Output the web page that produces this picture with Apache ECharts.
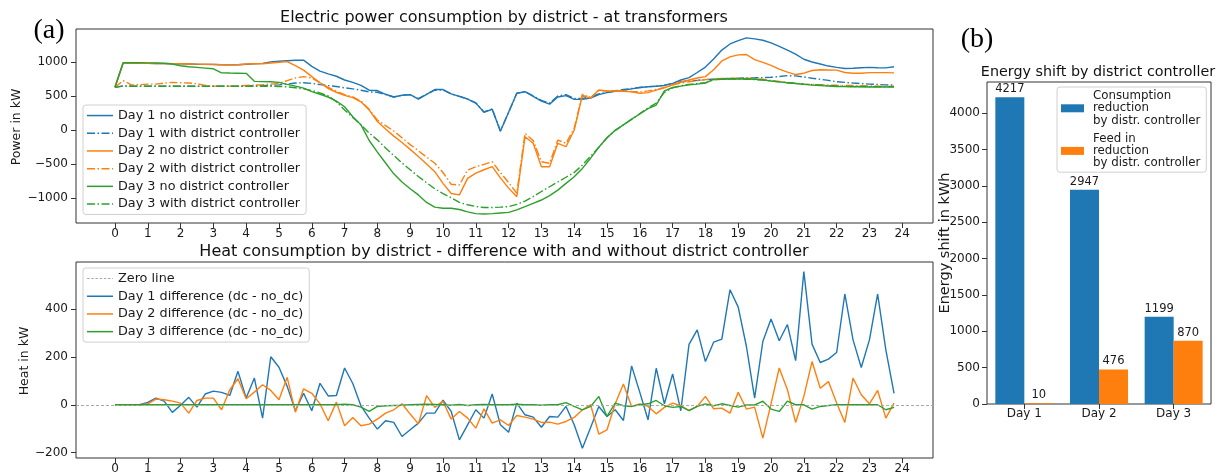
<!DOCTYPE html>
<html><head><meta charset="utf-8">
<script src="https://cdn.jsdelivr.net/npm/echarts@6/dist/echarts.min.js"></script>
<style>html,body{margin:0;padding:0;background:#fff}#c{width:1222px;height:476px}</style>
</head><body><div id="c"></div>
<script>
// ---------- DATA ----------
// time stamps: quarter-hours 0 .. 23.75
const hours = Array.from({length: 96}, (_, i) => i / 4);
const hourTicks = [0,1,2,3,4,5,6,7,8,9,10,11,12,13,14,15,16,17,18,19,20,21,22,23,24];
const powerTicks = [-1000, -500, 0, 500, 1000];
const heatTicks = [-200, 0, 200, 400];
const energyTicks = [0, 500, 1000, 1500, 2000, 2500, 3000, 3500, 4000];

const powerNames = ['Day 1 no district controller','Day 1 with district controller','Day 2 no district controller','Day 2 with district controller','Day 3 no district controller','Day 3 with district controller'];

const day1NoDc = [
 632, 990, 988, 985, 985, 983, 982, 980,
 978, 975, 972, 970, 968, 965, 962, 965,
 972, 978, 985, 1005, 1015, 1024, 1030, 1032,
 940, 870, 830, 795, 740, 705, 660, 590,
 585, 530, 490, 515, 525, 460, 530, 600,
 600, 535, 500, 460, 400, 265, 310, -15,
 265, 545, 568, 500, 430, 385, 490, 510,
 455, 455, 475, 525, 555, 575, 590, 610,
 630, 640, 648, 660, 690, 740, 775, 850,
 930, 1050, 1180, 1270, 1320, 1360, 1345, 1325,
 1285, 1235, 1180, 1120, 1045, 1005, 975, 945,
 925, 910, 912, 920, 925, 920, 918, 935];
const day1Dc = [
 632, 655, 652, 650, 650, 650, 648, 648,
 648, 648, 648, 648, 648, 648, 648, 650,
 652, 655, 658, 662, 668, 680, 695, 700,
 690, 672, 658, 645, 625, 610, 590, 565,
 560, 525, 490, 515, 525, 465, 530, 590,
 595, 535, 500, 460, 405, 270, 315, -10,
 265, 545, 570, 505, 440, 400, 505, 525,
 470, 470, 490, 535, 560, 580, 600, 615,
 630, 640, 650, 665, 690, 715, 725, 735,
 745, 752, 758, 762, 765, 770, 772, 775,
 780, 790, 805, 800, 785, 765, 750, 735,
 715, 705, 695, 688, 680, 675, 668, 665];
const day2NoDc = [
 632, 990, 988, 986, 985, 983, 982, 980,
 978, 976, 974, 972, 970, 965, 960, 965,
 975, 978, 980, 990, 1000, 1010, 950, 885,
 790, 700, 615, 560, 515, 480, 420, 300,
 130, 20, -85, -180, -280, -385, -495, -608,
 -780, -930, -950, -706, -630, -580, -535, -700,
 -850, -976, -94, -191, -535, -535, -191, -241,
 4, 519, 470, 593, 575, 580, 575, 565,
 545, 555, 590, 625, 670, 710, 740, 770,
 790, 890, 1020, 1080, 1110, 1115, 1040, 1000,
 955, 900, 855, 820, 840, 880, 890, 888,
 885, 850, 840, 840, 848, 848, 848, 845];
const day2Dc = [
 632, 730, 668, 670, 680, 680, 695, 705,
 700, 695, 685, 660, 650, 650, 650, 650,
 660, 665, 670, 680, 690, 730, 770, 790,
 770, 700, 630, 575, 525, 490, 430, 310,
 150, 70, -10, -110, -210, -300, -395, -485,
 -620, -794, -804, -584, -535, -500, -462, -620,
 -770, -926, -45, -150, -462, -485, -143, -191,
 30, 530, 480, 590, 580, 585, 580, 570,
 565, 580, 600, 630, 665, 695, 715, 730,
 745, 755, 762, 765, 765, 765, 760, 750,
 735, 720, 705, 690, 680, 675, 670, 665,
 662, 660, 658, 655, 652, 650, 650, 648];
const day3NoDc = [
 632, 994, 994, 993, 992, 990, 985, 975,
 950, 935, 925, 915, 905, 845, 842, 840,
 838, 720, 716, 714, 705, 676, 650, 620,
 570, 530, 490, 430, 347, 200, 80, -150,
 -320, -480, -640, -760, -860, -950, -1060, -1130,
 -1147, -1147, -1165, -1200, -1225, -1231, -1225, -1215,
 -1206, -1170, -1123, -1075, -1025, -960, -880, -780,
 -682, -560, -410, -250, -110, 0, 80, 165,
 240, 320, 372, 580, 630, 650, 668, 680,
 695, 748, 752, 755, 755, 754, 750, 742,
 725, 712, 700, 688, 675, 665, 658, 652,
 645, 642, 640, 640, 638, 638, 637, 637];
const day3Dc = [
 632, 650, 648, 648, 648, 648, 648, 648,
 648, 648, 648, 648, 648, 648, 648, 648,
 648, 648, 648, 648, 645, 640, 625, 610,
 585, 550, 505, 420, 300, 190, 80, -40,
 -140, -260, -370, -480, -580, -680, -770, -860,
 -930, -990, -1060, -1095, -1120, -1135, -1135, -1130,
 -1122, -1090, -1040, -975, -900, -830, -760, -690,
 -620, -510, -380, -250, -110, 0, 80, 160,
 245, 330, 400, 560, 625, 655, 675, 688,
 700, 745, 752, 755, 755, 752, 746, 738,
 725, 712, 700, 690, 680, 672, 665, 658,
 652, 648, 645, 645, 643, 642, 642, 642];

const heatNames = ['Zero line','Day 1 difference (dc - no_dc)','Day 2 difference (dc - no_dc)','Day 3 difference (dc - no_dc)'];
const heatDay1 = [
 0, 0, 0, 0, 10, 28, 15, -32,
 -2, 31, -10, 45, 57, 52, 39, 140,
 28, 112, -56, 201, 157, 77, -25, 48,
 -25, 90, 37, 39, 154, 89, -5, -56,
 -102, -67, -74, -133, -105, -77, -35, -35,
 19, -28, -147, -84, -21, -56, 45, -84,
 -115, 7, -42, -52, -94, -49, -52, -7,
 -84, -182, -95, -7, -49, -21, -66, 163,
 52, -63, 153, 4, 129, -25, 253, 314,
 181, 262, 275, 482, 409, 244, 28, 265,
 359, 268, 336, 185, 558, 254, 177, 191,
 219, 464, 272, 156, 272, 464, 230, 48];
const heatDay2 = [
 0, 0, 0, 0, 4, 24, 21, 15,
 7, -35, 18, 28, 28, -21, 63, 109,
 25, 53, 84, 60, 21, 115, -31, 67,
 48, 4, -67, 11, -88, -53, -88, -81,
 -60, -35, -21, 4, -39, -80, 38, -11,
 15, -60, -28, -56, -98, -17, -77, -63,
 -87, -45, -52, -60, -74, -73, -81, -70,
 -53, -21, 0, -123, -105, 4, 87, -7,
 4, -7, -38, -11, 7, -4, -24, -7,
 35, -17, -14, -35, 52, -18, -10, -140,
 4, 154, 63, -74, 35, 181, 69, 97,
 7, -74, 112, 42, 4, 60, -56, 7];
const heatDay3 = [
 0, 0, 0, 0, 0, 0, 0, 0,
 0, 0, 0, 0, 0, 0, 0, 0,
 0, 0, 0, 0, 0, 0, 0, 0,
 0, 0, 0, 0, 2, 0, -10, -28,
 -7, -4, -3, -2, 0, 1, 2, 1,
 0, -2, 1, -3, 0, 1, 0, 0,
 0, 2, 0, 0, -2, 0, 0, 9,
 -7, -21, -7, 35, -49, 7, -4, -7,
 0, 4, 18, -4, -11, -7, -25, -7,
 4, -4, 4, -3, -10, -1, -1, 15,
 -18, -28, 15, 0, 0, -18, -7, -3,
 0, 0, 0, 0, 0, 0, -21, -11];

const days = ['Day 1', 'Day 2', 'Day 3'];
const consumptionReduction = [4217, 2947, 1199];
const feedInReduction = [10, 476, 870];
const barNames = ['Consumption\nreduction\nby distr. controller', 'Feed in\nreduction\nby distr. controller'];

// ---------- STYLE ----------
const FONT = 'DejaVu Sans';
const BLUE = '#1f77b4', ORANGE = '#ff7f0e', GREEN = '#2ca02c';
const DASHDOT = [8, 2.5, 1.5, 2.5];
const TXT = '#1a1a1a';
// legend glyphs (26 x 13 box, line drawn in the middle)
const ICON_SOLID = 'path://M0,0M26,13M0,5.8h26v1.5h-26z';
const ICON_DASHDOT = 'path://M0,0M26,13M0,5.8h8v1.5h-8zM10.5,5.8h1.5v1.5h-1.5zM14.5,5.8h8v1.5h-8zM25,5.8h1v1.5h-1z';
const ICON_DASHED = 'path://M0,0M26,13M0,6h2.5v1h-2.5zM4.2,6h2.5v1h-2.5zM8.4,6h2.5v1h-2.5zM12.6,6h2.5v1h-2.5zM16.8,6h2.5v1h-2.5zM21,6h2.5v1h-2.5zM25.2,6h0.8v1h-0.8z';

const pair = arr => hours.map((h, i) => [h, arr[i]]);
const minus = v => (v < 0 ? '\u2212' + Math.abs(v) : String(v));

function xHourAxis(gi) {
  return {
    type: 'value', gridIndex: gi, min: -1.1875, max: 24.9375,
    axisLine: {show: false, onZero: false}, splitLine: {show: false},
    axisTick: {show: true, length: 5, lineStyle: {color: '#333', width: 1}, customValues: hourTicks},
    axisLabel: {customValues: hourTicks, margin: 5, fontSize: 12, color: TXT, fontFamily: FONT}
  };
}
function yAxisCfg(gi, min, max, ticks) {
  return {
    type: 'value', gridIndex: gi, min: min, max: max,
    axisLine: {show: false, onZero: false}, splitLine: {show: false},
    axisTick: {show: true, length: 5, lineStyle: {color: '#333', width: 1}, customValues: ticks},
    axisLabel: {customValues: ticks, margin: 8, fontSize: 12, color: TXT, fontFamily: FONT, formatter: minus}
  };
}
function lineSeries(name, data, color, dash, xi) {
  return {
    type: 'line', name: name, xAxisIndex: xi, yAxisIndex: xi, data: pair(data),
    symbol: 'none', showSymbol: false, smooth: false,
    lineStyle: {color: color, width: 1.4, type: dash ? DASHDOT : 'solid'},
    itemStyle: {color: color}, emphasis: {disabled: true}
  };
}
const legendBase = {
  orient: 'vertical', itemWidth: 26, itemHeight: 13, itemGap: 4.7,
  backgroundColor: 'rgba(255,255,255,0.85)', borderColor: '#d0d0d0', borderWidth: 1, borderRadius: 3,
  padding: [4, 6, 4, 4],
  itemStyle: {borderWidth: 0},
  textStyle: {fontSize: 12.8, color: TXT, fontFamily: FONT, lineHeight: 13},
  selectedMode: false
};

const chart = echarts.init(document.getElementById('c'), null, {renderer: 'canvas'});
chart.setOption({
  animation: false,
  backgroundColor: '#fff',
  textStyle: {fontFamily: FONT},
  grid: [
    {left: 76, top: 29, width: 857, height: 194, show: true, borderColor: '#333', borderWidth: 1, backgroundColor: 'transparent'},
    {left: 76, top: 262, width: 857, height: 196, show: true, borderColor: '#333', borderWidth: 1, backgroundColor: 'transparent'},
    {left: 987, top: 82, width: 224, height: 322, show: true, borderColor: '#333', borderWidth: 1, backgroundColor: 'transparent'}
  ],
  xAxis: [
    xHourAxis(0), xHourAxis(1),
    {type: 'category', gridIndex: 2, data: days, boundaryGap: true,
     axisLine: {show: false, onZero: false}, splitLine: {show: false},
     axisTick: {show: true, alignWithLabel: true, length: 5, lineStyle: {color: '#333'}},
     axisLabel: {margin: 4, fontSize: 12, color: TXT, fontFamily: FONT}}
  ],
  yAxis: [
    yAxisCfg(0, -1363, 1490, powerTicks),
    yAxisCfg(1, -223, 598, heatTicks),
    {type: 'value', gridIndex: 2, min: 0, max: 4428,
     axisLine: {show: false, onZero: false}, splitLine: {show: false},
     axisTick: {show: true, length: 5, lineStyle: {color: '#333'}, customValues: energyTicks},
     axisLabel: {customValues: energyTicks, margin: 7, fontSize: 12, color: TXT, fontFamily: FONT, formatter: v => String(v)}}
  ],
  legend: [
    Object.assign({}, legendBase, {left: 83, top: 105, data: powerNames.map((n, i) => ({name: n, icon: i % 2 ? ICON_DASHDOT : ICON_SOLID}))}),
    Object.assign({}, legendBase, {left: 83, top: 268, data: heatNames.map((n, i) => ({name: n, icon: i === 0 ? ICON_DASHED : ICON_SOLID}))}),
    {orient: 'vertical', left: 1057, top: 87, itemWidth: 23, itemHeight: 8, itemGap: 6, icon: 'rect',
     backgroundColor: 'rgba(255,255,255,0.85)', borderColor: '#d0d0d0', borderWidth: 1, borderRadius: 3,
     padding: [3, 6, 3, 4], selectedMode: false,
     textStyle: {fontSize: 11.8, color: TXT, fontFamily: FONT, lineHeight: 12.2, padding: [0, 0, 0, 4]},
     data: barNames}
  ],
  series: [
    lineSeries(powerNames[0], day1NoDc, BLUE, false, 0),
    lineSeries(powerNames[1], day1Dc, BLUE, true, 0),
    lineSeries(powerNames[2], day2NoDc, ORANGE, false, 0),
    lineSeries(powerNames[3], day2Dc, ORANGE, true, 0),
    lineSeries(powerNames[4], day3NoDc, GREEN, false, 0),
    lineSeries(powerNames[5], day3Dc, GREEN, true, 0),
    {type: 'line', name: heatNames[0], xAxisIndex: 1, yAxisIndex: 1, data: [],
     symbol: 'none', lineStyle: {color: '#aaaaaa', width: 1, type: [3, 2]}, itemStyle: {color: '#aaaaaa'},
     markLine: {silent: true, symbol: ['none', 'none'], label: {show: false},
       lineStyle: {color: '#aaaaaa', width: 1, type: [3, 2]}, data: [{yAxis: 0}]}},
    lineSeries(heatNames[1], heatDay1, BLUE, false, 1),
    lineSeries(heatNames[2], heatDay2, ORANGE, false, 1),
    lineSeries(heatNames[3], heatDay3, GREEN, false, 1),
    {type: 'bar', name: barNames[0], xAxisIndex: 2, yAxisIndex: 2, data: consumptionReduction,
     barWidth: 29, barGap: '0%', itemStyle: {color: BLUE},
     label: {show: true, position: 'top', distance: 2, fontSize: 11.5, color: TXT, fontFamily: FONT}},
    {type: 'bar', name: barNames[1], xAxisIndex: 2, yAxisIndex: 2, data: feedInReduction,
     barWidth: 29, barGap: '0%', itemStyle: {color: ORANGE},
     label: {show: true, position: 'top', distance: 2, fontSize: 11.5, color: TXT, fontFamily: FONT}}
  ],
  graphic: [
    {type: 'text', x: 504, y: 18, style: {text: 'Electric power consumption by district - at transformers', font: '16px "DejaVu Sans"', fill: '#111', textAlign: 'center', textVerticalAlign: 'middle'}},
    {type: 'text', x: 504, y: 252, style: {text: 'Heat consumption by district - difference with and without district controller', font: '16px "DejaVu Sans"', fill: '#111', textAlign: 'center', textVerticalAlign: 'middle'}},
    {type: 'text', x: 1098, y: 72, style: {text: 'Energy shift by district controller', font: '14.3px "DejaVu Sans"', fill: '#111', textAlign: 'center', textVerticalAlign: 'middle'}},
    {type: 'text', x: 17, y: 127, rotation: Math.PI / 2, style: {text: 'Power in kW', font: '12.5px "DejaVu Sans"', fill: TXT, textAlign: 'center', textVerticalAlign: 'middle'}},
    {type: 'text', x: 25, y: 361, rotation: Math.PI / 2, style: {text: 'Heat in kW', font: '12.5px "DejaVu Sans"', fill: TXT, textAlign: 'center', textVerticalAlign: 'middle'}},
    {type: 'text', x: 945, y: 243, rotation: Math.PI / 2, style: {text: 'Energy shift in kWh', font: '14.5px "DejaVu Sans"', fill: TXT, textAlign: 'center', textVerticalAlign: 'middle'}},
    {type: 'text', x: 49, y: 31, style: {text: '(a)', font: '28px "Liberation Serif"', fill: '#000', textAlign: 'center', textVerticalAlign: 'middle'}},
    {type: 'text', x: 977, y: 40, style: {text: '(b)', font: '28px "Liberation Serif"', fill: '#000', textAlign: 'center', textVerticalAlign: 'middle'}}
  ]
});
</script></body></html>
